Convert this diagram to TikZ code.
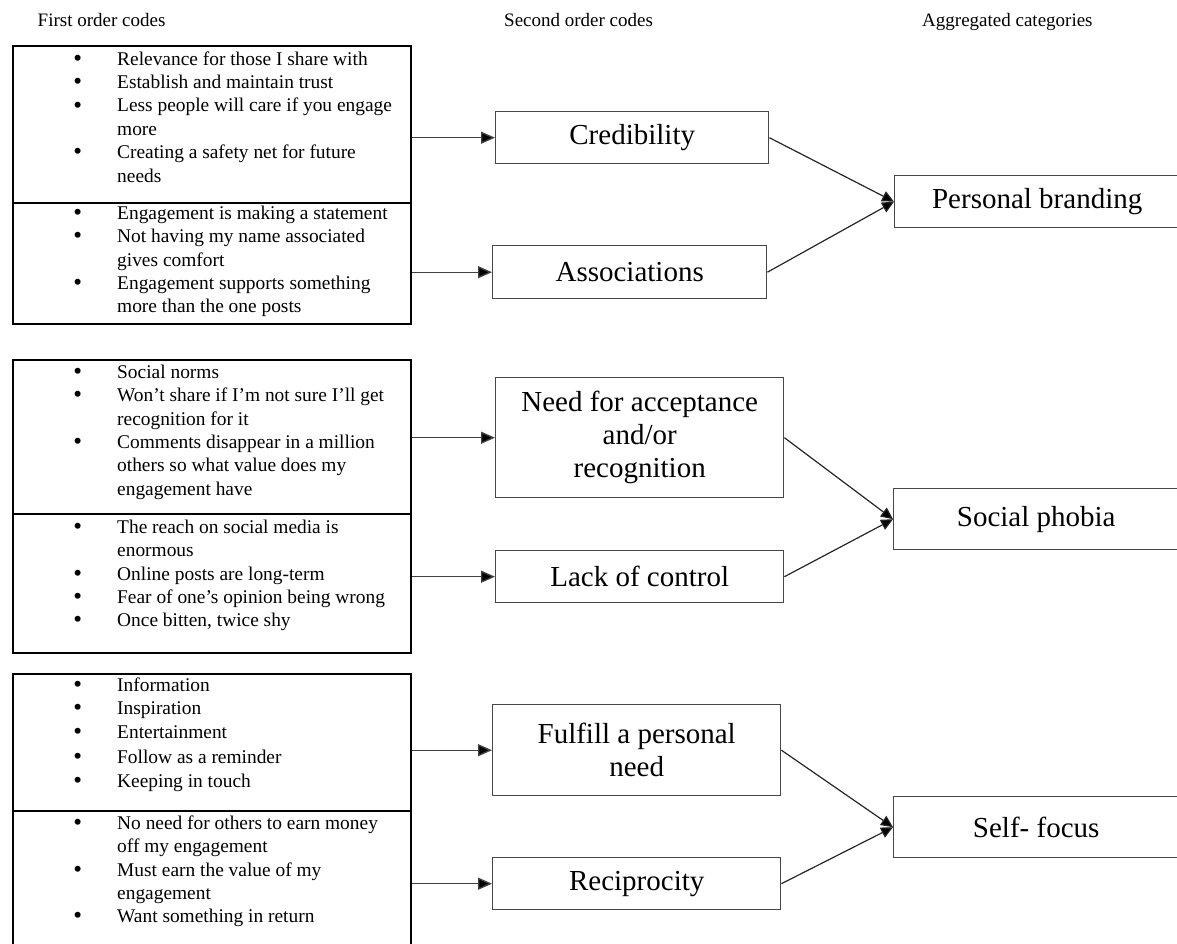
\documentclass[tikz,border=0pt]{standalone}
\usepackage{fontspec}
\setmainfont{Liberation Serif}
\usetikzlibrary{arrows.meta}
\newcommand{\bul}{\strut\llap{\raisebox{-1pt}{\fontsize{25}{23.4}\selectfont\textbullet}\hspace{35pt}}}
\begin{document}
\begin{tikzpicture}[x=1pt,y=-1pt,
  hdr/.style={font=\fontsize{19}{22}\selectfont, inner sep=0pt, anchor=base west},
  gbox/.style={draw=black, line width=2.2pt, inner sep=0pt, anchor=north west},
  ltext/.style={font=\fontsize{19.4}{23.4}\selectfont, align=left, inner sep=0pt, anchor=north west,
                yshift=16.38pt},
  sbox/.style={draw=black!72, line width=1.4pt, inner sep=0pt, anchor=north west, align=center,
               font=\fontsize{29}{33}\selectfont},
  abox/.style={draw=black!72, line width=1.4pt, inner sep=0pt, anchor=north west, align=center,
               font=\fontsize{29}{33}\selectfont},
  inarr/.style={draw=black!75, line width=1.4pt, -{Triangle[length=14pt,width=12pt,fill=black]}},
  conn/.style={draw=black!85, line width=1.2pt, -{Triangle[length=12pt,width=11pt,fill=black]}}
]
\useasboundingbox (0,0) rectangle (1177,944);
\clip (0,0) rectangle (1177,944);

% headers
\node[hdr] (h1) at (37.5,27) {First order codes};
\node[hdr] (h2) at (504,27) {Second order codes};
\node[hdr] (h3) at (922,27) {Aggregated categories};

% group 1 boxes
\node[gbox, minimum width=398pt, minimum height=157pt] (g1a) at (12,45) {};
\node[gbox, minimum width=398pt, minimum height=121pt] (g1b) at (12,202) {};
\node[ltext] (t1a) at (117,65) {\bul Relevance for those I share with\\
\bul Establish and maintain trust\\
\bul Less people will care if you engage\\
more\\
\bul Creating a safety net for future\\
needs};
\node[ltext] (t1b) at (117,219) {\bul Engagement is making a statement\\
\bul Not having my name associated\\
gives comfort\\
\bul Engagement supports something\\
more than the one posts};

% group 2 boxes
\node[gbox, minimum width=398pt, minimum height=154pt] (g2a) at (12,359) {};
\node[gbox, minimum width=398pt, minimum height=139pt] (g2b) at (12,513) {};
\node[ltext] (t2a) at (117,378) {\bul Social norms\\
\bul Won’t share if I’m not sure I’ll get\\
recognition for it\\
\bul Comments disappear in a million\\
others so what value does my\\
engagement have};
\node[ltext] (t2b) at (117,533) {\bul The reach on social media is\\
enormous\\
\bul Online posts are long-term\\
\bul Fear of one’s opinion being wrong\\
\bul Once bitten, twice shy};

% group 3 boxes
\node[gbox, minimum width=398pt, minimum height=137pt] (g3a) at (12,673) {};
\node[gbox, minimum width=398pt, minimum height=160pt] (g3b) at (12,810) {};
\node[ltext] (t3a) at (117,691) {\bul Information\\
\bul Inspiration\\
\bul Entertainment\\[2.5pt]
\bul Follow as a reminder\\
\bul Keeping in touch};
\node[ltext] (t3b) at (117,829) {\bul No need for others to earn money\\
off my engagement\\
\bul Must earn the value of my\\
engagement\\
\bul Want something in return};

% second order codes
\node[sbox, minimum width=273pt, minimum height=52pt] (cred) at (495,111) {Credibility};
\node[sbox, minimum width=274pt, minimum height=53pt] (assoc) at (492,245) {Associations};
\node[sbox, minimum width=288pt, minimum height=120pt] (need) at (495,377) {Need for acceptance\\ and/or\\ recognition};
\node[sbox, minimum width=288pt, minimum height=52pt] (lack) at (495,550) {Lack of control};
\node[sbox, minimum width=288pt, minimum height=91pt] (fulf) at (492,704) {Fulfill a personal\\ need};
\node[sbox, minimum width=288pt, minimum height=52pt] (recip) at (492,857) {Reciprocity};

% aggregated categories
\node[abox, minimum width=285pt, minimum height=52pt] (pb) at (894,175) {Personal branding};
\node[abox, minimum width=285pt, minimum height=61pt] (sp) at (893,488) {Social phobia};
\node[abox, minimum width=285pt, minimum height=61pt] (sf) at (893,796) {Self- focus};

% arrows into second order codes
\draw[inarr] (g1a.east |- cred.west) -- (cred.west);
\draw[inarr] (g1b.east |- assoc.west) -- (assoc.west);
\draw[inarr] (g2a.east |- need.west) -- (need.west);
\draw[inarr] (g2b.east |- lack.west) -- (lack.west);
\draw[inarr] (g3a.east |- fulf.west) -- (fulf.west);
\draw[inarr] (g3b.east |- recip.west) -- (recip.west);

% connectors to aggregated categories
\draw[conn] (cred.east) -- (pb.west);
\draw[conn] (assoc.east) -- (pb.west);
\draw[conn] (need.east) -- (sp.west);
\draw[conn] (lack.east) -- (sp.west);
\draw[conn] (fulf.east) -- (sf.west);
\draw[conn] (recip.east) -- (sf.west);
\end{tikzpicture}
\end{document}
